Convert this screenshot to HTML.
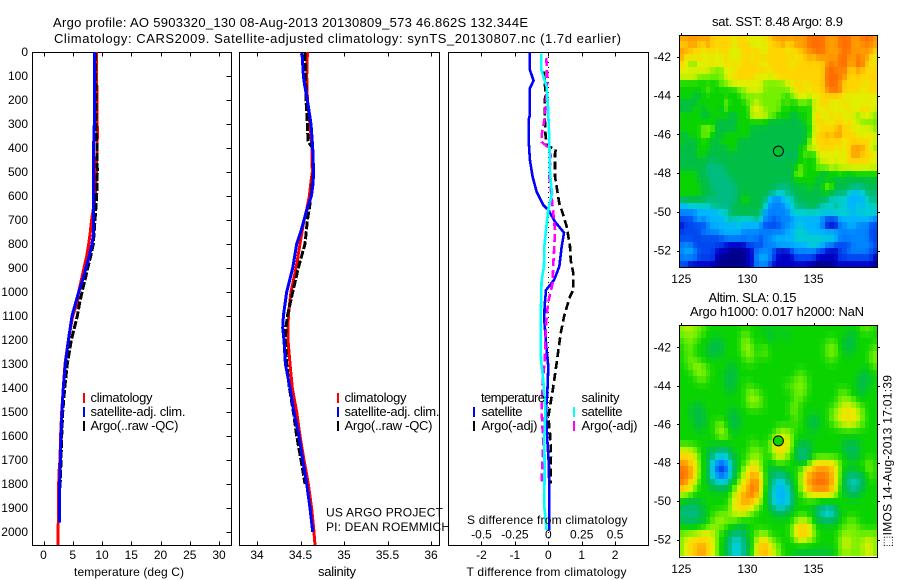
<!DOCTYPE html>
<html lang="en">
<head>
<meta charset="utf-8">
<title>Argo profile</title>
<style>
html,body{margin:0;padding:0;background:#fff;width:900px;height:580px;overflow:hidden}
svg{display:block}
text{font-family:"Liberation Sans","DejaVu Sans",sans-serif;font-size:12px;fill:#000}
text[textLength]{font-size:13px}
text.caps[textLength]{font-size:12px}
</style>
</head>
<body>
<svg id="chart" width="900" height="580" viewBox="0 0 900 580" xmlns="http://www.w3.org/2000/svg">
  <rect x="0" y="0" width="900" height="580" fill="#fff"/>
  <text x="53" y="27" textLength="475" lengthAdjust="spacing">Argo profile: AO 5903320_130 08-Aug-2013 20130809_573 46.862S 132.344E</text>
  <text x="54" y="43" textLength="567" lengthAdjust="spacing">Climatology: CARS2009. Satellite-adjusted climatology: synTS_20130807.nc (1.7d earlier)</text>

  <g id="cells-sst"></g>
  <g id="cells-sla"></g>
  <g id="axes"></g>
  <g id="marks"></g>

  <text class="caps" x="74" y="576" textLength="110" lengthAdjust="spacing">temperature (deg C)</text>
  <text x="318" y="576" textLength="38" lengthAdjust="spacing">salinity</text>
  <text class="caps" x="466.5" y="576" textLength="160" lengthAdjust="spacing">T difference from climatology</text>
  <text class="caps" x="467" y="524" textLength="160.5" lengthAdjust="spacing">S difference from climatology</text>

  <text x="90.5" y="402" textLength="62" lengthAdjust="spacing">climatology</text>
  <text x="90.5" y="416" textLength="95" lengthAdjust="spacing">satellite-adj. clim.</text>
  <text x="90.5" y="430" textLength="88" lengthAdjust="spacing">Argo(..raw -QC)</text>
  <text x="344.5" y="402" textLength="62" lengthAdjust="spacing">climatology</text>
  <text x="344.5" y="416" textLength="95" lengthAdjust="spacing">satellite-adj. clim.</text>
  <text x="344.5" y="430" textLength="88" lengthAdjust="spacing">Argo(..raw -QC)</text>
  <text class="caps" x="326" y="516.5" textLength="117" lengthAdjust="spacing">US ARGO PROJECT</text>
  <text class="caps" x="326" y="531" textLength="124" lengthAdjust="spacing">PI: DEAN ROEMMICH</text>

  <text x="481" y="402" textLength="64" lengthAdjust="spacing">temperature</text>
  <text x="481.5" y="416" textLength="41" lengthAdjust="spacing">satellite</text>
  <text x="481.5" y="430" textLength="56" lengthAdjust="spacing">Argo(-adj)</text>
  <text x="581.5" y="402" textLength="38" lengthAdjust="spacing">salinity</text>
  <text x="581.5" y="416" textLength="41" lengthAdjust="spacing">satellite</text>
  <text x="581.5" y="430" textLength="56" lengthAdjust="spacing">Argo(-adj)</text>

  <rect x="83" y="393" width="2" height="10" fill="#f00"/>
  <rect x="83" y="407" width="2" height="10" fill="#00f"/>
  <rect x="83" y="421" width="2" height="10" fill="#000"/>
  <rect x="337" y="393" width="2" height="10" fill="#f00"/>
  <rect x="337" y="407" width="2" height="10" fill="#00f"/>
  <rect x="337" y="421" width="2" height="10" fill="#000"/>
  <rect x="473" y="407" width="2" height="10" fill="#00f"/>
  <rect x="473" y="421" width="2" height="10" fill="#000"/>
  <rect x="573" y="407" width="2" height="10" fill="#0ff"/>
  <rect x="573" y="421" width="2" height="10" fill="#f0f"/>

  <text x="712" y="26" textLength="131" lengthAdjust="spacing">sat. SST: 8.48 Argo: 8.9</text>
  <text x="708.5" y="302" textLength="88" lengthAdjust="spacing">Altim. SLA: 0.15</text>
  <text x="690" y="316" textLength="174" lengthAdjust="spacing">Argo h1000: 0.017 h2000: NaN</text>
  <text class="caps" transform="translate(891.5 547) rotate(-90)" x="0" y="0" textLength="172" lengthAdjust="spacing">⬚IMOS 14-Aug-2013 17:01:39</text>
</svg>

<script>
// ---------- axis tick labels ----------
const depthTicks = [0,100,200,300,400,500,600,700,800,900,1000,1100,1200,1300,1400,1500,1600,1700,1800,1900,2000];
const tempTicks = [0,5,10,15,20,25,30];
const salinityTicks = [34,34.5,35,35.5,36];
const salinityTickLabels = ['34','34.5','35','35.5','36'];
const tDiffTicks = [-2,-1,0,1,2];
const sDiffTicks = [-0.5,-0.25,0,0.25,0.5];
const sDiffTickLabels = ['-0.5','-0.25','0','0.25','0.5'];
const lonTicks = [125,130,135];
const latTicks = [-42,-44,-46,-48,-50,-52];

// ---------- temperature profiles ----------
const tempClimDepth = [0,100,300,320,400,500,600,700,750,800,850,900,950,1000,1050,1100,1200,1300,1400,1500,1600,1700,1750,1800,1900,2000,2054];
const tempClim = [9.09,9.09,9.15,9.25,9.15,9.03,8.86,8.23,8.0,7.72,7.38,6.92,6.47,6.01,5.67,4.99,4.25,3.68,3.39,3.11,2.93,2.82,2.65,2.59,2.59,2.48,2.48];
const tempSatDepth = [0,100,300,380,400,500,600,700,750,800,850,900,950,1000,1050,1100,1200,1300,1400,1500,1600,1700,1800,1900,1960];
const tempSat = [8.75,8.75,8.69,8.58,8.52,8.52,8.52,8.58,8.58,8.29,7.83,7.26,6.7,6.01,5.44,4.87,4.25,3.73,3.39,3.16,2.99,2.88,2.76,2.71,2.71];
const tempArgoDepth = [5,100,300,400,500,600,700,800,850,900,950,1000,1050,1100,1200,1300,1400,1500,1600,1700,1820];
const tempArgo = [8.86,8.92,8.97,9.15,9.2,9.09,8.8,8.52,8.06,7.55,7.09,6.58,6.13,5.78,4.76,4.07,3.62,3.28,3.11,2.99,2.82];

// ---------- salinity profiles ----------
const salClimDepth = [0,100,200,300,400,500,550,600,650,700,800,900,1000,1050,1100,1200,1300,1400,1500,1600,1700,1800,1900,2000,2054];
const salClim = [34.579,34.571,34.579,34.609,34.632,34.636,34.617,34.602,34.575,34.54,34.494,34.448,34.391,34.375,34.36,34.356,34.379,34.406,34.456,34.494,34.54,34.59,34.628,34.655,34.667];
const salSatDepth = [5,20,100,140,200,300,400,500,550,600,650,700,750,800,900,1000,1050,1100,1150,1200,1300,1400,1500,1600,1700,1800,1900,2000];
const salSat = [34.51,34.521,34.533,34.548,34.579,34.621,34.64,34.651,34.644,34.625,34.579,34.54,34.502,34.456,34.41,34.341,34.322,34.303,34.295,34.31,34.326,34.379,34.425,34.483,34.525,34.571,34.609,34.64];
const salArgoDepth = [5,100,200,300,370,385,400,500,600,650,700,800,850,900,1000,1100,1150,1200,1300,1400,1500,1600,1700,1800];
const salArgo = [34.552,34.559,34.563,34.579,34.586,34.609,34.64,34.648,34.621,34.602,34.579,34.552,34.513,34.475,34.41,34.349,34.333,34.326,34.341,34.372,34.418,34.456,34.506,34.552];

// ---------- difference profiles ----------
const tDiffSatDepth = [3,75,119,151,262,283,364,450,519,582,638,658,707,753,811,894,950,992,1061,1117,1172,1242,1311,1422,1492,1617,1728,1992];
const tDiffSat = [-0.55,-0.55,-0.44,-0.55,-0.55,-0.59,-0.59,-0.55,-0.47,-0.35,-0.15,0,0.2,0.47,0.4,0.33,0.17,-0.07,-0.11,-0.12,-0.09,-0.05,0,-0.03,-0.07,-0.03,0.02,0.03];
const tDiffArgoDepth = [82,158,256,353,392,406,422,519,561,631,672,728,811,867,922,992,1019,1050,1103,1172,1297,1394,1478,1519,1589,1672,1797];
const tDiffArgo = [-0.13,-0.09,-0.11,-0.08,-0.03,0.23,0.2,0.2,0.25,0.33,0.43,0.55,0.65,0.67,0.75,0.75,0.65,0.58,0.47,0.37,0.25,0.15,0.05,0,0.05,0.08,0.07];
const sDiffSatDepth = [6,75,144,228,367,506,589,658,742,811,894,950,1061,1144,1283,1367,1492,1617,1728,1894,1992];
const sDiffSat = [-0.0525,-0.0525,-0.0125,-0.0025,0.0075,0.0125,0.0275,0,-0.0175,-0.03,-0.0325,-0.05,-0.055,-0.0575,-0.055,-0.0375,-0.0225,-0.03,-0.0275,-0.03,-0.0125];
const sDiffArgoDepth = [26,103,172,269,346,374,394,429,519,603,672,742,811,881,964,1040,1103,1200,1269,1380,1492,1631,1797];
const sDiffArgo = [-0.015,-0.0075,-0.0125,-0.025,-0.05,-0.05,-0.0075,0.0175,0.0075,0.025,0.0375,0.05,0.045,0.0375,0.0325,0,-0.0125,-0.0225,-0.025,-0.0425,-0.05,-0.0375,-0.05];
const zeroLineDepth = [0,2054];
const zeroLineValue = [0,0];

// ---------- Argo float position ----------
const floatLon = [132.344];
const floatLat = [-46.862];
const floatSstLevel = [7.2];
const floatSlaLevel = [8];

// ---------- heatmap levels: 45 columns x 36 rows, north to south ----------
const sstLevels = [
[12,12,12,12,12,12,12,11,11,11,11,11,10,11,11,10,10,10,10,11,11,12,12,12,12,12,12,12,12,13,13,13,13,12,12,12,13,13,13,12,12,13,13,13,12],
[11,11,12,12,11,11,12,11,11,11,11,11,10,11,11,11,10,10,10,10,11,11,11,12,11,11,12,12,12,13,13,13,13,12,12,12,13,13,13,12,12,12,13,12,12],
[12,12,11,11,11,10,11,11,10,11,11,10,10,10,11,11,11,11,10,10,11,11,11,11,10,11,11,11,12,12,13,13,13,12,12,12,12,13,13,12,12,12,12,12,11],
[12,10,11,10,11,10,10,10,10,10,11,10,10,10,11,11,10,11,11,11,11,11,11,11,11,11,10,11,11,12,11,12,12,12,12,12,13,13,12,12,13,12,12,11,10],
[11,10,9,9,10,10,10,11,10,10,11,10,11,10,11,11,11,11,10,10,11,11,11,11,11,10,11,11,11,11,11,11,11,12,13,12,13,13,12,12,13,13,11,10,11],
[10,10,10,10,10,10,10,9,9,9,10,10,10,11,11,11,11,11,11,11,10,11,11,11,11,11,11,11,11,11,11,11,11,13,13,13,12,13,11,11,12,11,11,11,11],
[10,10,10,10,9,9,9,9,9,9,10,10,11,11,11,11,11,10,10,10,10,10,11,11,11,11,11,11,11,11,11,11,11,13,13,13,13,12,11,11,11,11,11,11,11],
[8,8,8,8,8,8,8,8,8,9,9,10,10,10,10,10,10,10,10,9,9,9,9,9,10,10,11,11,10,11,11,11,11,13,13,13,12,11,11,11,11,11,10,11,11],
[8,8,8,8,8,8,9,8,8,8,8,8,8,9,9,10,10,10,10,9,9,9,9,9,9,10,10,11,11,10,11,11,11,12,13,13,13,11,11,11,11,10,11,11,11],
[8,8,8,7,7,8,8,8,8,8,8,8,8,8,9,9,9,9,9,9,9,9,9,9,8,9,10,10,10,10,10,10,11,11,11,11,11,10,10,10,10,10,10,10,10],
[7,7,7,7,8,8,8,8,8,8,9,8,8,8,8,9,9,10,9,9,9,9,9,8,9,8,8,9,9,8,10,10,11,11,10,10,10,11,10,10,10,10,10,10,10],
[7,7,7,8,8,7,8,8,8,7,9,8,8,8,8,8,10,10,10,9,9,9,9,8,8,8,8,8,8,8,10,10,10,11,10,10,10,10,11,10,10,11,11,10,10],
[8,8,8,8,8,7,7,8,8,8,8,7,7,8,8,8,10,10,10,10,9,9,8,8,8,7,7,8,8,8,10,11,10,10,11,10,11,10,10,10,9,10,10,10,9],
[8,8,8,8,8,8,8,8,7,7,7,7,7,8,8,8,8,8,8,8,7,7,7,7,7,7,7,7,8,8,10,11,11,10,10,11,11,10,11,10,10,9,9,9,9],
[8,8,8,8,8,9,9,9,7,7,7,7,7,8,8,8,7,7,7,7,7,7,7,7,7,7,7,7,7,8,10,10,11,11,11,11,12,11,11,10,10,10,10,10,9],
[7,7,8,8,8,9,9,8,7,7,8,8,8,8,8,8,7,7,7,7,7,7,7,7,7,7,7,7,7,8,10,11,11,12,11,12,12,11,11,11,10,10,10,10,10],
[8,7,7,7,8,8,8,7,7,8,8,8,8,7,7,7,7,7,7,7,7,7,7,7,7,7,7,7,7,9,10,11,11,11,11,11,11,10,11,11,11,11,11,10,10],
[7,7,7,7,8,8,8,7,7,7,7,8,8,7,7,7,7,7,7,7,7,7,7,7,7,7,7,8,8,10,10,10,11,11,11,10,11,10,11,12,12,12,11,10,9],
[7,7,7,7,8,8,7,7,7,7,7,7,7,7,7,7,7,7,7,7,7,7,6,6,7,7,6,8,9,8,8,10,10,10,10,10,10,10,11,12,12,11,11,11,10],
[7,7,7,7,7,7,7,6,7,7,7,7,7,7,7,7,7,7,7,7,7,7,7,7,7,7,7,8,8,8,8,9,10,10,10,10,10,10,11,11,11,11,11,10,10],
[7,7,7,7,7,7,6,6,6,6,7,7,7,7,7,7,7,7,7,7,7,7,7,7,7,7,8,9,8,8,8,9,9,9,10,9,10,10,10,10,10,10,10,10,10],
[8,8,8,8,7,7,6,6,6,6,6,7,7,7,7,7,7,7,7,7,7,7,7,7,7,7,9,9,8,8,8,8,7,7,8,8,8,8,7,8,8,8,8,8,8],
[8,8,8,8,7,7,7,6,6,6,6,6,7,7,7,7,7,7,7,7,7,7,7,7,7,7,8,8,8,8,8,7,7,8,7,7,7,7,7,7,7,7,7,7,7],
[8,8,8,8,8,7,7,6,6,6,6,6,6,7,7,7,7,7,7,7,7,7,6,6,6,7,7,7,7,8,7,7,8,9,9,7,7,7,7,6,6,6,7,7,7],
[8,8,8,8,8,7,7,7,6,6,6,6,6,7,7,7,7,7,7,7,6,6,5,5,6,6,7,7,7,7,7,7,7,8,7,6,6,6,5,4,4,5,6,6,6],
[7,7,7,7,7,7,6,6,6,6,6,6,6,7,8,8,7,7,7,6,4,3,3,4,5,5,6,7,7,7,7,7,7,6,5,5,5,5,4,4,4,4,5,6,6],
[4,4,5,5,5,5,5,6,6,6,6,6,7,7,7,7,7,7,7,5,3,3,3,3,4,5,6,6,6,7,7,6,5,5,5,6,5,5,4,4,5,4,5,5,5],
[3,3,3,3,4,4,4,4,4,5,5,6,7,7,7,7,7,7,6,3,3,3,3,3,3,5,5,5,5,5,5,5,5,5,5,5,5,5,5,4,5,5,5,5,5],
[2,2,2,3,4,3,4,4,4,4,5,6,5,5,5,5,5,6,5,3,3,2,3,3,3,3,4,4,4,4,4,4,3,2,2,2,4,4,4,4,4,4,4,4,3],
[1,2,2,2,2,2,3,4,4,4,4,4,4,5,4,4,4,4,3,2,2,2,2,3,3,4,4,5,4,4,4,4,3,1,1,1,3,3,4,4,3,3,3,2,2],
[2,2,2,2,2,3,3,3,3,4,4,4,4,4,3,3,3,3,3,3,3,3,3,3,4,4,5,5,5,4,4,4,4,4,4,4,3,3,3,3,3,3,3,2,2],
[2,2,2,2,2,2,2,2,2,2,3,3,3,3,3,3,3,3,2,3,3,4,4,4,4,4,5,5,5,5,5,5,5,5,5,4,3,3,3,3,3,3,3,2,2],
[3,3,3,2,2,2,2,2,2,2,1,1,1,1,1,2,2,2,2,3,3,3,4,4,4,4,4,4,4,5,5,5,4,3,3,2,2,2,2,3,3,3,3,3,2],
[3,4,4,3,2,2,2,2,1,1,1,0,0,0,0,1,1,3,3,3,3,2,1,1,1,2,3,3,3,3,3,2,2,1,1,1,2,2,3,3,3,3,3,2,2],
[3,3,3,3,2,2,2,2,1,0,0,0,0,0,0,1,1,3,4,4,3,2,1,1,1,1,2,2,2,2,2,1,1,1,1,1,2,2,2,2,2,2,2,2,1],
[2,2,1,1,1,1,1,1,0,0,0,0,0,0,0,1,1,3,3,3,2,1,1,1,1,1,1,1,1,1,0,0,0,0,0,1,1,1,1,1,1,1,1,1,0]
];
const slaLevels = [
[9,10,10,9,9,9,8,8,8,8,8,8,8,8,8,8,8,8,8,7,8,8,8,8,8,8,8,8,8,8,8,8,8,8,8,8,8,8,8,8,8,9,9,9,8],
[9,9,9,9,9,8,8,8,8,8,8,8,8,8,9,9,8,8,8,8,7,7,8,7,7,8,8,8,8,8,8,8,8,8,8,8,8,8,7,7,8,8,8,8,8],
[8,9,9,9,8,8,8,7,7,7,8,8,8,8,9,9,8,8,8,8,7,8,8,8,8,8,8,8,8,8,8,8,8,8,9,8,8,7,7,7,8,8,8,8,8],
[8,9,9,8,8,8,7,7,7,7,8,8,8,8,9,10,9,8,8,9,8,8,8,8,8,8,8,8,8,8,8,8,8,9,9,9,8,7,7,7,8,8,8,8,9],
[8,8,9,8,8,8,7,7,7,7,8,8,8,8,9,9,9,8,9,9,8,8,8,8,8,8,8,8,8,8,8,8,8,9,9,9,8,8,7,8,8,8,8,9,9],
[8,9,9,9,8,8,8,8,8,8,8,8,8,8,8,9,9,8,8,8,8,8,8,8,8,8,8,8,8,8,8,8,8,8,9,8,8,8,8,8,8,8,8,9,9],
[8,8,9,9,10,9,8,8,8,8,8,7,7,8,8,8,8,8,8,8,8,8,8,8,8,8,8,8,8,8,8,8,8,8,8,8,8,8,8,8,8,8,8,8,9],
[8,8,8,9,9,9,9,8,8,8,7,7,7,8,8,8,8,8,8,8,8,8,8,8,8,8,8,9,8,8,8,8,8,8,8,8,8,8,8,8,8,7,7,8,8],
[8,8,8,8,9,9,8,8,8,8,7,7,7,8,8,8,8,8,8,8,8,8,8,8,8,8,9,9,9,8,8,8,8,8,8,8,8,8,8,8,7,7,7,7,8],
[8,8,8,8,8,8,8,8,8,8,7,7,7,8,8,9,8,8,8,8,8,8,8,8,9,9,9,9,9,8,8,8,8,8,8,8,8,8,8,8,7,7,7,8,8],
[8,8,8,8,8,8,8,8,8,8,8,7,8,8,8,9,9,9,8,8,8,8,8,8,8,8,9,9,9,8,8,8,8,8,8,8,9,9,8,8,7,7,8,8,8],
[8,8,8,8,8,8,8,8,8,8,8,8,8,8,8,9,10,9,9,8,8,8,8,8,8,8,9,9,8,8,8,8,8,8,8,8,9,9,9,9,8,8,8,8,8],
[8,8,8,7,7,8,8,8,8,8,8,8,8,8,8,9,9,9,9,8,8,8,8,8,8,9,9,8,8,8,8,8,8,8,8,9,9,10,10,9,9,8,8,8,8],
[8,8,7,7,7,7,8,8,8,8,8,7,7,8,8,8,8,8,8,8,8,8,8,8,8,9,9,8,8,8,8,8,8,8,9,9,10,10,11,10,10,9,8,8,8],
[8,8,8,7,7,7,8,8,8,8,8,7,7,7,8,8,8,8,8,8,8,8,8,8,8,8,9,8,8,7,7,7,8,8,9,10,10,11,11,11,10,9,8,8,8],
[8,8,8,7,7,7,8,8,9,9,8,7,7,7,8,8,8,8,8,8,8,8,8,8,8,8,9,8,8,7,7,7,8,8,8,9,9,10,10,10,9,9,8,8,8],
[8,8,8,8,7,8,8,8,9,10,9,8,7,8,8,8,8,8,8,8,8,8,9,10,9,9,8,8,8,8,7,8,8,8,8,8,8,8,8,8,8,8,8,8,8],
[8,8,8,8,8,8,8,8,8,9,9,8,8,8,8,8,8,8,8,8,8,9,10,10,10,9,8,8,8,8,8,8,8,8,8,8,8,8,8,8,8,8,8,8,8],
[8,8,8,8,8,8,8,8,8,8,8,8,8,8,8,8,9,8,8,8,9,10,11,11,10,9,8,7,7,7,8,8,8,8,8,8,8,7,7,7,7,8,8,8,8],
[10,10,10,9,8,8,7,7,6,6,6,7,8,8,8,8,9,9,9,8,9,10,11,11,10,9,7,6,6,7,8,8,8,8,8,8,8,7,6,6,7,8,8,8,8],
[11,11,11,10,9,8,7,6,5,5,5,6,7,8,8,9,9,9,9,8,8,9,10,10,9,8,7,6,5,7,8,8,8,8,8,8,8,8,7,7,7,8,8,8,8],
[12,12,11,10,9,8,7,5,3,2,3,5,7,8,8,9,10,10,9,8,8,8,9,8,8,8,8,7,7,9,10,11,11,11,11,10,9,8,8,8,8,8,9,9,8],
[13,13,12,11,9,8,7,4,2,1,2,4,7,8,9,10,11,11,9,8,7,7,7,8,8,8,8,9,10,11,12,12,12,12,12,10,9,8,7,8,8,8,9,9,8],
[13,13,12,11,9,8,7,5,3,2,3,5,7,8,10,11,12,12,10,8,7,6,6,6,7,8,8,9,11,12,12,13,13,12,12,10,9,7,6,6,6,7,8,9,8],
[13,12,11,10,8,8,7,6,5,5,5,6,8,9,10,11,12,13,11,8,7,6,4,4,6,7,8,9,11,12,13,13,13,13,12,10,9,7,5,5,5,6,8,8,8],
[12,11,10,9,8,8,8,7,7,7,7,8,9,10,11,12,13,13,10,8,6,5,4,4,5,7,8,9,11,12,13,13,13,13,12,10,8,7,6,5,6,7,8,8,8],
[9,9,9,8,8,8,8,8,8,8,8,8,10,11,12,12,13,12,10,8,6,5,4,4,4,6,8,8,9,10,10,10,10,10,10,9,8,8,7,7,7,8,8,8,8],
[8,7,7,7,7,8,8,8,8,8,8,9,10,11,12,12,11,11,9,8,6,4,4,4,4,6,8,8,8,8,8,8,8,8,8,8,8,8,8,8,8,8,8,8,8],
[7,6,6,6,7,7,8,8,8,8,8,9,10,11,11,11,10,9,8,8,7,6,5,5,6,7,8,8,8,8,7,7,5,5,5,7,8,8,8,8,8,8,8,8,8],
[6,6,6,6,6,7,8,8,9,9,9,9,10,10,10,9,9,8,8,8,8,7,7,7,7,8,8,8,8,8,7,6,5,4,4,6,7,8,8,8,8,8,8,8,8],
[7,6,6,6,7,7,8,9,9,10,9,9,9,8,8,8,8,8,8,8,8,8,8,8,8,8,9,10,10,9,8,7,7,6,7,7,8,8,9,9,8,8,8,8,8],
[8,8,8,8,8,8,9,9,9,9,8,8,8,7,7,8,8,8,8,8,8,8,8,8,8,9,10,11,11,10,9,8,8,8,8,8,8,9,9,9,9,8,8,8,8],
[9,9,9,9,10,10,10,10,9,8,8,7,6,6,7,8,8,9,9,9,8,8,8,8,8,9,11,12,12,11,9,8,8,8,8,8,9,9,9,9,9,9,9,9,9],
[9,10,11,11,11,11,11,10,9,8,7,6,5,5,6,7,8,9,11,11,9,9,8,8,8,8,9,10,10,9,9,8,8,8,8,8,9,10,10,9,9,9,10,10,9],
[9,10,11,11,12,12,11,10,9,8,7,6,4,4,6,7,8,10,12,12,10,10,9,8,8,8,8,8,8,8,8,8,8,8,8,8,9,10,10,9,9,10,10,10,9],
[9,10,11,11,12,12,11,10,9,8,7,6,5,5,6,7,8,10,11,12,10,10,9,8,8,8,7,7,7,7,7,7,7,7,7,8,9,9,9,9,9,9,10,10,9]
];

// ---------- colour scale ----------
const levelColours = [[0,0,138],[0,0,200],[0,72,240],[0,132,255],[0,180,255],[0,207,207],[0,188,128],[0,190,70],[10,212,0],[116,240,0],[224,240,0],[255,212,0],[255,156,0],[255,110,0]];
function levelColour(v){
  const t = Math.max(0, Math.min(levelColours.length - 1, v));
  const i = Math.min(levelColours.length - 2, Math.floor(t));
  const f = t - i;
  const a = levelColours[i];
  const b = levelColours[i + 1];
  return 'rgb(' + a.map((c, k) => Math.round(c + (b[k] - c) * f)).join(',') + ')';
}
function cellValue(levels, r, c, centre, edge, corner){
  let sum = 0;
  let weight = 0;
  for (let dr = -1; dr <= 1; dr++) {
    for (let dc = -1; dc <= 1; dc++) {
      const row = levels[r + dr];
      if (!row || row[c + dc] === undefined) continue;
      const w = dr === 0 && dc === 0 ? centre : (dr === 0 || dc === 0 ? edge : corner);
      sum += row[c + dc] * w;
      weight += w;
    }
  }
  return sum / weight;
}

// ---------- axis functions ----------
const NS = 'http://www.w3.org/2000/svg';
const panelTop = 52.5, panelBottom = 545.5;
function yDepth(d){ return 52 + d * 0.24; }
function xTemp(t){ return 43.5 + t * 5.85; }
function xSal(s){ return 257 + (s - 34) * 87; }
function xTDiff(t){ return 548.3 + t * 33.4; }
function xSDiff(s){ return 548.3 + s * 133.6; }
function xLon(lon){ return 681.3 + (lon - 125) * 13.22; }
function ySst(lat){ return 57 + (-42 - lat) * 19.37; }
function ySla(lat){ return 347.3 + (-42 - lat) * 19.24; }

const axesGroup = document.getElementById('axes');
const marksGroup = document.getElementById('marks');

function addLine(parent, name, x1, y1, x2, y2){
  const el = document.createElementNS(NS, 'line');
  
  
  el.setAttribute('x1', x1);
  el.setAttribute('y1', y1);
  el.setAttribute('x2', x2);
  el.setAttribute('y2', y2);
  el.setAttribute('stroke', '#000');
  el.setAttribute('stroke-width', '1');
  el.setAttribute('shape-rendering', 'crispEdges');
  parent.appendChild(el);
}
function addText(name, str, x, y, anchor){
  const el = document.createElementNS(NS, 'text');
  
  
  el.setAttribute('x', x);
  el.setAttribute('y', y);
  el.setAttribute('text-anchor', anchor);
  el.textContent = str;
  axesGroup.appendChild(el);
}
function addFrame(name, x, y, w, h){
  const el = document.createElementNS(NS, 'rect');
  
  
  el.setAttribute('x', x);
  el.setAttribute('y', y);
  el.setAttribute('width', w);
  el.setAttribute('height', h);
  el.setAttribute('fill', 'none');
  el.setAttribute('stroke', '#000');
  el.setAttribute('stroke-width', '1');
  el.setAttribute('shape-rendering', 'crispEdges');
  axesGroup.appendChild(el);
}
function addProfile(name, depths, values, xFn, colour, width, dash){
  const el = document.createElementNS(NS, 'polyline');
  
  
  const pts = depths.map((d, i) => xFn(values[i]).toFixed(1) + ',' + yDepth(d).toFixed(1));
  el.setAttribute('points', pts.join(' '));
  el.setAttribute('fill', 'none');
  el.setAttribute('stroke', colour);
  el.setAttribute('stroke-width', width);
  el.setAttribute('shape-rendering', 'crispEdges');
  if (dash) el.setAttribute('stroke-dasharray', dash);
  marksGroup.appendChild(el);
}
function drawHeatmap(groupId, levels, yFn, topLat, name, centre, edge, corner){
  const group = document.getElementById(groupId);
  const leftLon = 124.86;
  levels.forEach((row, r) => {
    const y0 = Math.round(yFn(topLat - r / 3));
    const y1 = Math.round(yFn(topLat - (r + 1) / 3));
    row.forEach((v, c) => {
      const x0 = Math.round(xLon(leftLon + c / 3));
      const x1 = Math.round(xLon(leftLon + (c + 1) / 3));
      const el = document.createElementNS(NS, 'rect');
      
      
      el.setAttribute('x', x0);
      el.setAttribute('y', y0);
      el.setAttribute('width', x1 - x0);
      el.setAttribute('height', y1 - y0);
      el.setAttribute('fill', levelColour(cellValue(levels, r, c, centre, edge, corner)));
      el.setAttribute('shape-rendering', 'crispEdges');
      group.appendChild(el);
    });
  });
}
function addFloat(name, lon, lat, yFn, level){
  const el = document.createElementNS(NS, 'circle');
  
  
  el.setAttribute('cx', xLon(lon));
  el.setAttribute('cy', yFn(lat));
  el.setAttribute('r', '5');
  el.setAttribute('fill', levelColour(level));
  el.setAttribute('stroke', '#000');
  el.setAttribute('stroke-width', '1');
  marksGroup.appendChild(el);
}

// ---------- heatmaps ----------
drawHeatmap('cells-sst', sstLevels, ySst, -40.86, 'sst-cell', 4, 1, 0);
drawHeatmap('cells-sla', slaLevels, ySla, -40.84, 'sla-cell', 4, 2, 1);

// ---------- profile panel frames ----------
addFrame('temperature-panel-frame', 32.5, panelTop, 199, 493);
addFrame('salinity-panel-frame', 239.5, panelTop, 200, 493);
addFrame('difference-panel-frame', 448.5, panelTop, 200, 493);

// ---------- depth axis ----------
depthTicks.forEach(d => {
  const y = Math.round(yDepth(d)) + 0.5;
  addLine(axesGroup, 'depth-tick', 226.5, y, 231, y);
  addText('depth-tick-label', String(d), 28, yDepth(d) + 4, 'end');
});

// ---------- x axes ----------
tempTicks.forEach(t => {
  const x = Math.round(xTemp(t)) + 0.5;
  addLine(axesGroup, 'temperature-tick-top', x, panelTop, x, panelTop + 4);
  addLine(axesGroup, 'temperature-tick-bottom', x, panelBottom - 4, x, panelBottom);
  addText('temperature-tick-label', String(t), xTemp(t), 559, 'middle');
});
salinityTicks.forEach((s, i) => {
  const x = Math.round(xSal(s)) + 0.5;
  addLine(axesGroup, 'salinity-tick-top', x, panelTop, x, panelTop + 4);
  addLine(axesGroup, 'salinity-tick-bottom', x, panelBottom - 4, x, panelBottom);
  addText('salinity-tick-label', salinityTickLabels[i], xSal(s), 559, 'middle');
});
tDiffTicks.forEach(t => {
  const x = Math.round(xTDiff(t)) + 0.5;
  addLine(axesGroup, 't-difference-tick-top', x, panelTop, x, panelTop + 4);
  addLine(axesGroup, 't-difference-tick-bottom', x, panelBottom - 4, x, panelBottom);
  addText('t-difference-tick-label', String(t), xTDiff(t), 559, 'middle');
});
sDiffTicks.forEach((s, i) => {
  addText('s-difference-tick-label', sDiffTickLabels[i], xSDiff(s), 538.5, 'middle');
});

// ---------- map frames and ticks ----------
addFrame('sst-map-frame', 679.5, 35.5, 198, 232);
addFrame('sla-map-frame', 679.5, 325.5, 198, 232);
lonTicks.forEach(lon => {
  const x = Math.round(xLon(lon)) + 0.5;
  addLine(axesGroup, 'sst-lon-tick', x, 33, x, 35.5);
  addLine(axesGroup, 'sla-lon-tick', x, 323, x, 325.5);
  addText('sst-lon-tick-label', String(lon), xLon(lon), 283, 'middle');
  addText('sla-lon-tick-label', String(lon), xLon(lon), 573, 'middle');
});
latTicks.forEach(lat => {
  const y1 = Math.round(ySst(lat)) + 0.5;
  const y2 = Math.round(ySla(lat)) + 0.5;
  addLine(axesGroup, 'sst-lat-tick-left', 677, y1, 679.5, y1);
  addLine(axesGroup, 'sst-lat-tick-right', 877.5, y1, 880, y1);
  addLine(axesGroup, 'sla-lat-tick-left', 677, y2, 679.5, y2);
  addLine(axesGroup, 'sla-lat-tick-right', 877.5, y2, 880, y2);
  addText('sst-lat-tick-label', String(lat), 671, ySst(lat) + 4, 'end');
  addText('sla-lat-tick-label', String(lat), 671, ySla(lat) + 4, 'end');
});

// ---------- temperature panel ----------
addProfile('temperature-climatology-line', tempClimDepth, tempClim, xTemp, '#f00', 3, '');
addProfile('temperature-argo-line', tempArgoDepth, tempArgo, xTemp, '#000', 3, '8 2');
addProfile('temperature-satellite-line', tempSatDepth, tempSat, xTemp, '#00f', 3, '');

// ---------- salinity panel ----------
addProfile('salinity-climatology-line', salClimDepth, salClim, xSal, '#f00', 3, '');
addProfile('salinity-argo-line', salArgoDepth, salArgo, xSal, '#000', 3, '8 2');
addProfile('salinity-satellite-line', salSatDepth, salSat, xSal, '#00f', 3, '');

// ---------- difference panel ----------
addProfile('zero-difference-line', zeroLineDepth, zeroLineValue, xTDiff, '#000', 1, '1 4');
addProfile('t-difference-satellite-line', tDiffSatDepth, tDiffSat, xTDiff, '#00f', 2.6, '');
addProfile('t-difference-argo-line', tDiffArgoDepth, tDiffArgo, xTDiff, '#000', 2.6, '8 4');
addProfile('s-difference-argo-line', sDiffArgoDepth, sDiffArgo, xSDiff, '#f0f', 2.6, '8 4');
addProfile('s-difference-satellite-line', sDiffSatDepth, sDiffSat, xSDiff, '#0ff', 2.6, '');

// ---------- float markers ----------
addFloat('sst-argo-float-marker', floatLon[0], floatLat[0], ySst, floatSstLevel[0]);
addFloat('sla-argo-float-marker', floatLon[0], floatLat[0], ySla, floatSlaLevel[0]);
</script>
</body>
</html>
